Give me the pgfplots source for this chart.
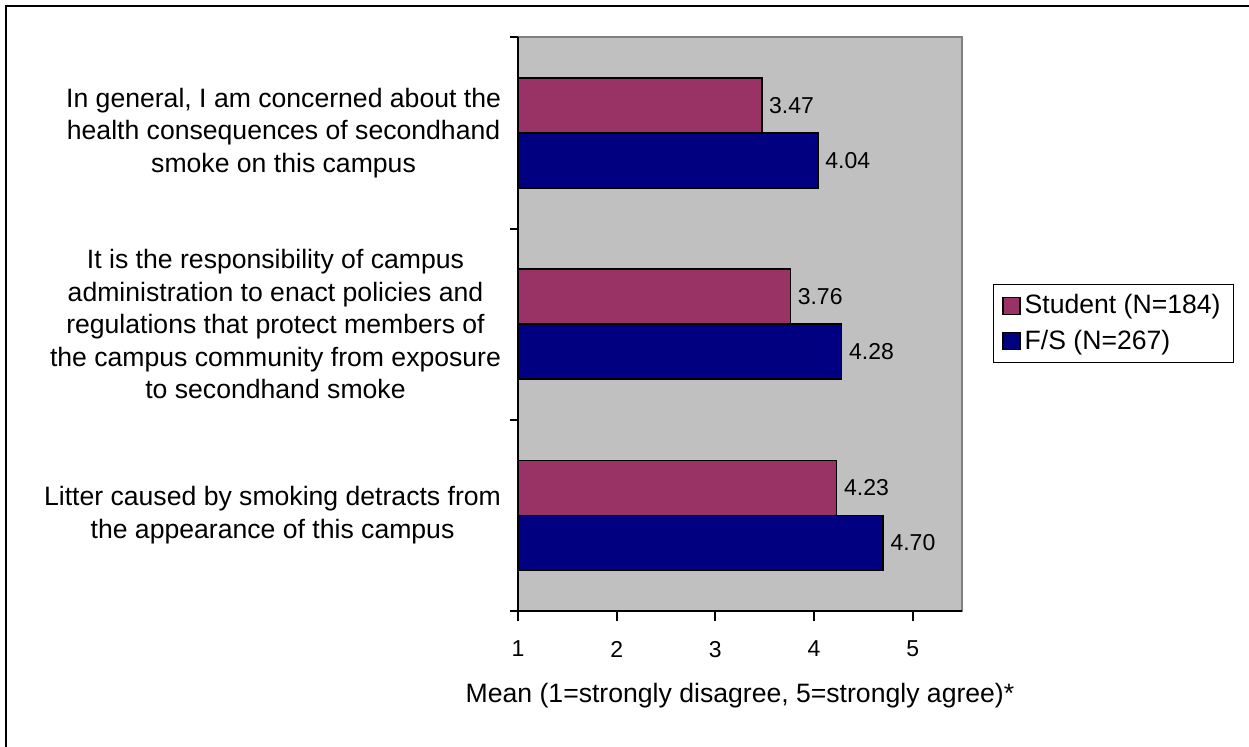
\documentclass[border=0pt]{standalone}
\usepackage{pgfplots}
\pgfplotsset{compat=1.18}
\usepackage{fontspec}
\setmainfont{Liberation Sans}
\definecolor{studentbar}{RGB}{153,51,102}
\definecolor{staffbar}{RGB}{0,0,128}
\definecolor{plotgray}{RGB}{192,192,192}
\definecolor{edgegray}{RGB}{128,128,128}

\begin{document}
\begin{tikzpicture}
\useasboundingbox (0,0) rectangle (624.5pt,373.5pt);
% outer chart frame (only left and top edges fall inside the picture)
\draw[line width=1pt] (3pt,0) -- (3pt,370.5pt) -- (624.5pt,370.5pt);
\begin{axis}[
  at={(259pt,68pt)}, anchor=south west,
  scale only axis, width=222pt, height=286.75pt,
  xbar, bar width=27.5pt,
  xmin=1, xmax=5.5, ymin=0.5, ymax=3.5,
  axis x line*=bottom, axis y line*=left,
  axis line style={line width=1pt},
  axis background/.style={fill=plotgray, draw=edgegray, line width=1pt},
  xtick={1,2,3,4,5},
  tick align=outside, major tick length=5pt,
  tick style={black, line width=1pt},
  xticklabel style={font=\fontsize{11.5}{13}\selectfont, yshift=-6.5pt},
  ytick={1,2,3},
  yticklabels={
    {Litter caused by smoking detracts from\\the appearance of this campus},
    {It is the responsibility of campus\\administration to enact policies and\\regulations that protect members of\\the campus community from exposure\\to secondhand smoke},
    {In general, I am concerned about the\\health consequences of secondhand\\smoke on this campus}},
  ytick style={draw=none},
  extra y ticks={0.5,1.5,2.5,3.5}, extra y tick labels={},
  extra y tick style={ytick style={draw=black}, major tick length=4pt},
  yticklabel style={align=center, font=\fontsize{13.3}{16.3}\selectfont},
  /pgf/number format/assume math mode=true,
  nodes near coords,
  nodes near coords style={font=\fontsize{11.5}{13}\selectfont, anchor=west,
    /pgf/number format/.cd, fixed, fixed zerofill, precision=2},
  legend style={at={(1.0698,0.5702)}, anchor=north west, draw=black,
    line width=0.5pt, font=\fontsize{13.3}{16}\selectfont,
    cells={anchor=west}, row sep=2.5pt, inner xsep=4.5pt, inner ysep=3pt},
  sq/.style={legend image code/.code={
    \draw[##1, line width=0.6pt] (0pt,-4.25pt) rectangle (8.5pt,4.25pt);}},
]
\addplot[sq, fill=studentbar, draw=black, line width=0.8pt, bar shift=13.75pt]
  coordinates {(3.47,3) (3.76,2) (4.23,1)};
\addlegendentry{Student (N=184)}
\addplot[sq, fill=staffbar, draw=black, line width=0.8pt, bar shift=-13.75pt]
  coordinates {(4.04,3) (4.28,2) (4.70,1)};
\addlegendentry{F/S (N=267)}
\end{axis}
\node[anchor=base, font=\fontsize{13.3}{16}\selectfont] at (370pt,22pt)
  {Mean (1=strongly disagree, 5=strongly agree)*};
\end{tikzpicture}
\end{document}
